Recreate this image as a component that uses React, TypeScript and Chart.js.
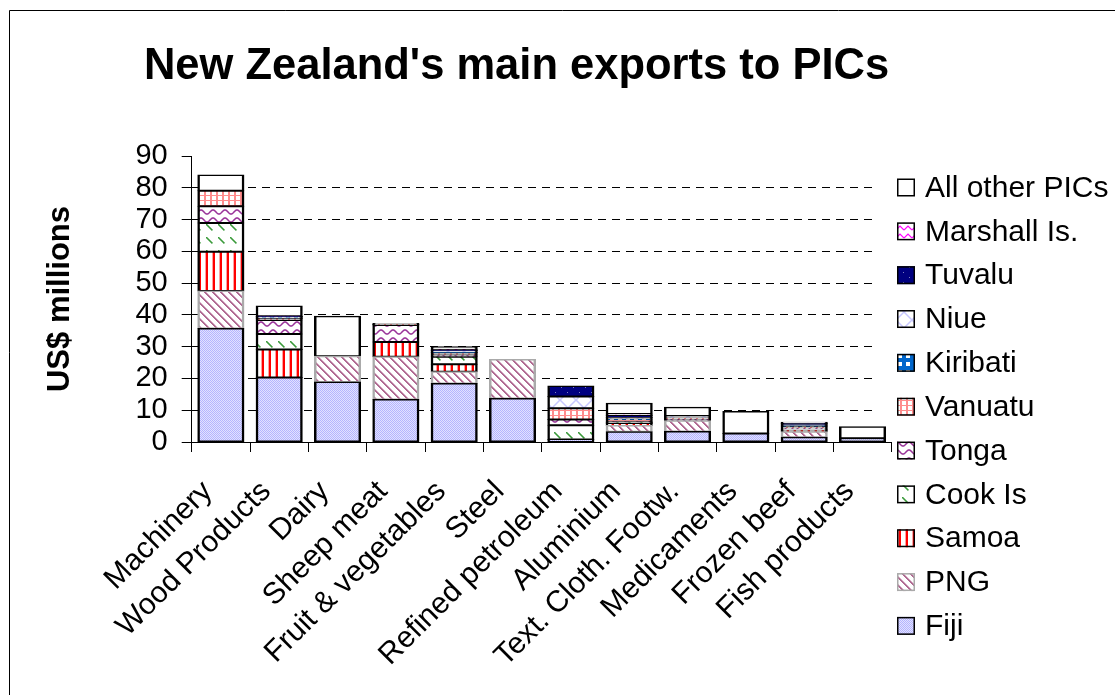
import React, { useEffect, useRef } from 'react';
import { Chart, registerables } from 'chart.js';

Chart.register(...registerables);

// ---------- data ----------
const categories = [
  'Machinery',
  'Wood Products',
  'Dairy',
  'Sheep meat',
  'Fruit & vegetables',
  'Steel',
  'Refined petroleum',
  'Aluminium',
  'Text. Cloth. Footw.',
  'Medicaments',
  'Frozen beef',
  'Fish products',
];

const fiji = [35.7, 20.3, 18.9, 13.4, 18.4, 13.7, 0.8, 3.2, 3.3, 2.7, 1.5, 1.2];
const png = [11.8, 0, 8.1, 13.4, 3.7, 12.3, 0, 2.0, 3.4, 0, 1.7, 0];
const samoa = [12.4, 8.8, 0, 4.7, 2.4, 0, 0, 0.6, 0, 0, 0.5, 0];
const cookIs = [9.0, 4.9, 0, 0, 2.3, 0, 4.5, 0.3, 0, 0, 0.3, 0];
const tonga = [5.3, 4.4, 0, 5.3, 0.6, 0, 1.8, 0.3, 0.4, 0, 0.4, 0];
const vanuatu = [4.9, 0.5, 0, 0.2, 0.6, 0, 3.5, 0.5, 0.4, 0, 0.4, 0];
const kiribati = [0, 0.2, 0, 0, 0.2, 0, 0, 0.3, 0, 0, 0.3, 0];
const niue = [0, 0.2, 0, 0, 0.4, 0, 3.7, 0.5, 0.7, 0, 0.3, 0];
const tuvalu = [0, 0.2, 0, 0, 0.2, 0, 3.3, 0.6, 0, 0, 0.4, 0];
const marshallIs = [0, 0.1, 0, 0, 0.2, 0, 0, 0.5, 0, 0, 0.2, 0];
const allOther = [4.9, 3.2, 12.6, 0.3, 1.0, 0, 0, 3.4, 2.7, 6.9, 0.2, 3.6];

const seriesNames = [
  'Fiji',
  'PNG',
  'Samoa',
  'Cook Is',
  'Tonga',
  'Vanuatu',
  'Kiribati',
  'Niue',
  'Tuvalu',
  'Marshall Is.',
  'All other PICs',
];
const seriesValues = [fiji, png, samoa, cookIs, tonga, vanuatu, kiribati, niue, tuvalu, marshallIs, allOther];

const yMin = 0;
const yMax = 90;
const yStep = 10;

const chartTitle = "New Zealand's main exports to PICs";
const yAxisTitle = 'US$ millions';

const FONT = "'Liberation Sans', Arial, Helvetica, sans-serif";

// ---------- patterns ----------
type Draw = (g: CanvasRenderingContext2D, w: number, h: number) => void;
function makeTile(w: number, h: number, draw: Draw): HTMLCanvasElement {
  const c = document.createElement('canvas');
  c.width = w;
  c.height = h;
  const g = c.getContext('2d') as CanvasRenderingContext2D;
  draw(g, w, h);
  return c;
}

function buildPatterns(ctx: CanvasRenderingContext2D): (CanvasPattern | string)[] {
  const p = (t: HTMLCanvasElement) => ctx.createPattern(t, 'repeat') as CanvasPattern;

  const fijiT = makeTile(2, 2, (g) => {
    g.fillStyle = '#e2e2ff';
    g.fillRect(0, 0, 2, 2);
    g.fillStyle = '#b4b4ff';
    g.fillRect(0, 0, 1, 1);
    g.fillRect(1, 1, 1, 1);
  });

  const pngT = makeTile(8, 8, (g) => {
    g.fillStyle = '#ffffff';
    g.fillRect(0, 0, 8, 8);
    g.fillStyle = '#b06a92';
    for (let i = 0; i < 8; i++) {
      g.fillRect(i, i, 1, 1);
      g.fillRect((i + 1) % 8, i, 1, 1);
    }
    g.fillStyle = '#dcb8cc';
    for (let i = 0; i < 8; i++) {
      g.fillRect((i + 2) % 8, i, 1, 1);
    }
  });

  const samoaT = makeTile(7, 1, (g) => {
    g.fillStyle = '#ffffff';
    g.fillRect(0, 0, 7, 1);
    g.fillStyle = '#ffa0a0';
    g.fillRect(2, 0, 1, 1);
    g.fillStyle = '#ff0000';
    g.fillRect(3, 0, 2, 1);
  });

  const cookT = makeTile(12, 13, (g) => {
    g.fillStyle = '#ffffff';
    g.fillRect(0, 0, 12, 13);
    g.fillStyle = '#3a9a3a';
    for (let i = 0; i < 6; i++) {
      g.fillRect(2 + i, 3 + i, 1.6, 1.6);
    }
  });

  const tongaT = makeTile(12, 8, (g) => {
    g.fillStyle = '#ffffff';
    g.fillRect(0, 0, 12, 8);
    g.strokeStyle = '#993399';
    g.lineWidth = 1.6;
    g.beginPath();
    for (let x = -1; x <= 13; x += 0.5) {
      const y = 4 + 2 * Math.sin((2 * Math.PI * x) / 12);
      if (x === -1) g.moveTo(x, y);
      else g.lineTo(x, y);
    }
    g.stroke();
  });

  const vanuatuT = makeTile(6, 5, (g) => {
    g.fillStyle = '#ffffff';
    g.fillRect(0, 0, 6, 5);
    g.fillStyle = '#ff8c8c';
    g.fillRect(0, 0, 2, 5);
    g.fillRect(0, 0, 6, 1);
  });

  const kiribatiT = makeTile(8, 8, (g) => {
    g.fillStyle = '#0066cc';
    g.fillRect(0, 0, 8, 8);
    g.fillStyle = '#ffffff';
    g.fillRect(2, 2, 4, 4);
  });

  const niueT = makeTile(16, 16, (g) => {
    g.fillStyle = '#ffffff';
    g.fillRect(0, 0, 16, 16);
    g.strokeStyle = '#c8c8ff';
    g.lineWidth = 1.5;
    g.beginPath();
    g.moveTo(0, 0);
    g.lineTo(16, 16);
    g.moveTo(16, 0);
    g.lineTo(0, 16);
    g.stroke();
  });

  const tuvaluT = makeTile(12, 10, (g) => {
    g.fillStyle = '#000080';
    g.fillRect(0, 0, 12, 10);
    g.fillStyle = '#8080c0';
    g.fillRect(3, 2, 1, 1);
    g.fillRect(9, 7, 1, 1);
  });

  const marshallT = makeTile(8, 8, (g) => {
    g.fillStyle = '#ffffff';
    g.fillRect(0, 0, 8, 8);
    g.strokeStyle = '#ff00ff';
    g.lineWidth = 1.2;
    g.beginPath();
    g.moveTo(0, 6);
    g.lineTo(4, 2);
    g.lineTo(8, 6);
    g.stroke();
  });

  return [
    p(fijiT),
    p(pngT),
    p(samoaT),
    p(cookT),
    p(tongaT),
    p(vanuatuT),
    p(kiribatiT),
    p(niueT),
    p(tuvaluT),
    p(marshallT),
    '#ffffff',
  ];
}

const borderColors = ['#000000', '#aaaaaa', '#000000', '#000000', '#000000', '#000000', '#000000', '#000000', '#000000', '#000000', '#000000'];

// ---------- plugins ----------
const frameAndTitlePlugin = {
  id: 'frameAndTitle',
  beforeDraw(chart: any) {
    const ctx = chart.ctx as CanvasRenderingContext2D;
    ctx.save();
    ctx.fillStyle = '#ffffff';
    ctx.fillRect(0, 0, chart.width, chart.height);
    ctx.strokeStyle = '#000000';
    ctx.lineWidth = 1;
    ctx.beginPath();
    ctx.moveTo(9.5, chart.height);
    ctx.lineTo(9.5, 10.5);
    ctx.lineTo(chart.width, 10.5);
    ctx.stroke();
    ctx.restore();
  },
  beforeDatasetsDraw(chart: any) {
    // legend box covers the right end of the gridlines
    const ctx = chart.ctx as CanvasRenderingContext2D;
    const a = chart.chartArea;
    ctx.save();
    ctx.fillStyle = '#ffffff';
    ctx.fillRect(878, a.top - 2, a.right - 878 + 2, a.bottom - a.top);
    ctx.restore();
  },
  afterDraw(chart: any) {
    const ctx = chart.ctx as CanvasRenderingContext2D;
    ctx.save();
    // title
    ctx.fillStyle = '#000000';
    ctx.font = `bold 43.5px ${FONT}`;
    ctx.textAlign = 'center';
    ctx.textBaseline = 'alphabetic';
    ctx.fillText(chartTitle, 516.5, 78.5);

    // legend
    const ds = chart.data.datasets;
    ctx.font = `30px ${FONT}`;
    ctx.textAlign = 'left';
    ctx.textBaseline = 'middle';
    for (let i = 0; i < ds.length; i++) {
      const d = ds[ds.length - 1 - i];
      const cy = 187.5 + i * 43.84;
      ctx.fillStyle = d.backgroundColor;
      ctx.fillRect(897, cy - 9, 18, 18);
      ctx.lineWidth = 1.5;
      ctx.strokeStyle = d.label === 'PNG' ? '#aaaaaa' : '#000000';
      ctx.strokeRect(897.75, cy - 8.25, 16.5, 16.5);
      ctx.fillStyle = '#000000';
      ctx.fillText(d.label, 925, cy + 1);
    }
    ctx.restore();
  },
};

export default function App() {
  const canvasRef = useRef<HTMLCanvasElement | null>(null);

  useEffect(() => {
    const canvas = canvasRef.current;
    if (!canvas) return;
    const ctx = canvas.getContext('2d') as CanvasRenderingContext2D;
    const patterns = buildPatterns(ctx);

    const datasets = seriesNames.map((name, i) => ({
      label: name,
      data: seriesValues[i],
      backgroundColor: patterns[i],
      borderColor: borderColors[i],
      borderWidth: { top: 1.5, bottom: 1.5, left: 2.5, right: 2.5 },
      borderSkipped: false as const,
      inflateAmount: 0.5,
      barPercentage: 0.79,
      categoryPercentage: 1.0,
    }));

    const chart = new Chart(canvas, {
      type: 'bar',
      data: { labels: categories, datasets },
      plugins: [frameAndTitlePlugin],
      options: {
        responsive: false,
        animation: false,
        devicePixelRatio: 1,
        layout: { padding: { left: 10, right: 223.3, top: 156, bottom: 0 } },
        plugins: {
          legend: { display: false },
          title: { display: false },
          tooltip: { enabled: false },
        },
        scales: {
          x: {
            stacked: true,
            offset: true,
            grid: {
              offset: true,
              drawOnChartArea: false,
              drawTicks: true,
              tickLength: 10,
              tickColor: '#000000',
              tickWidth: 1,
            },
            border: { display: true, color: '#000000', width: 1 },
            ticks: {
              autoSkip: false,
              minRotation: 45,
              maxRotation: 45,
              padding: 22,
              labelOffset: -13,
              color: '#000000',
              font: { family: FONT, size: 30 },
            },
            afterFit(scale: any) {
              scale.height = 253;
            },
          },
          y: {
            stacked: true,
            min: yMin,
            max: yMax,
            grid: {
              color: (c: any) =>
                c.tick && (c.tick.value === yMin || c.tick.value === yMax) ? 'rgba(0,0,0,0)' : '#000000',
              lineWidth: 1,
              tickLength: 10,
              tickColor: '#000000',
              tickBorderDash: [],
            },
            border: { display: true, color: '#000000', width: 1, dash: [8, 6] },
            ticks: {
              stepSize: yStep,
              autoSkip: false,
              padding: 14,
              color: '#000000',
              font: { family: FONT, size: 29, lineHeight: 1 },
            },
            title: {
              display: true,
              text: yAxisTitle,
              color: '#000000',
              font: { family: FONT, size: 31, weight: 'bold' },
              padding: { top: 32, bottom: 0 },
            },
            afterFit(scale: any) {
              scale.width = 181.7;
            },
          },
        },
      } as any,
    });

    return () => chart.destroy();
  }, []);

  return (
    <div style={{ position: 'fixed', left: 0, top: 0, width: 1115, height: 695, background: '#fff' }}>
      <canvas ref={canvasRef} width={1115} height={695} style={{ display: 'block' }} />
    </div>
  );
}
